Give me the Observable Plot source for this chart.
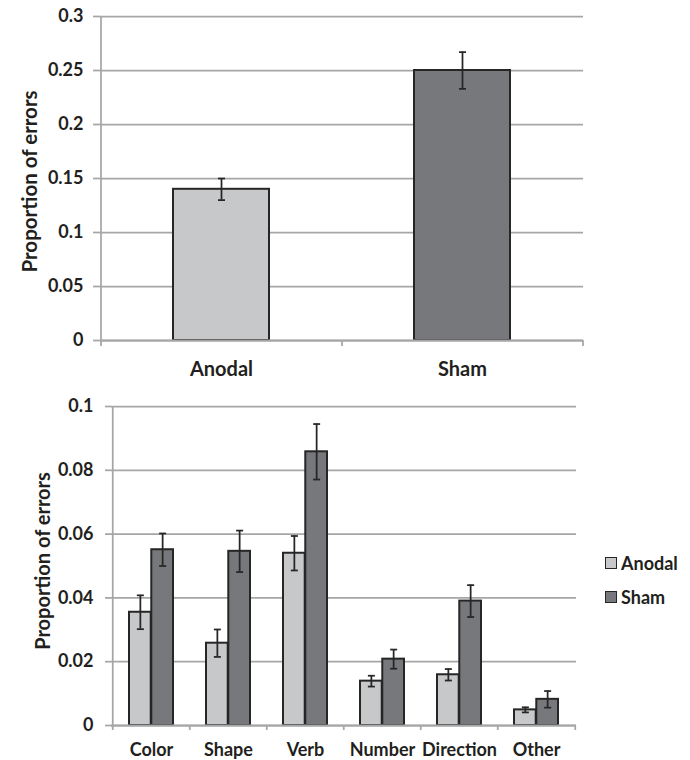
<!DOCTYPE html>
<html>
<head>
<meta charset="utf-8">
<script src="https://cdn.jsdelivr.net/npm/d3@7"></script>
<script src="https://cdn.jsdelivr.net/npm/@observablehq/plot@0.6"></script>
<style>
  body { margin: 0; background: #fff; font-family: Lato, sans-serif; }
  #wrap { position: relative; width: 690px; height: 760px; }
  #top { position: absolute; left: 0; top: 0; }
  #bottom { position: absolute; left: 0; top: 390px; }
  #legend { position: absolute; left: 605px; top: 546px; font: 700 18px Lato, sans-serif; color: #231f20; }
  .item { display: flex; align-items: center; height: 34px; }
  .sw { width: 10px; height: 10px; border: 1.5px solid #262626; margin-right: 4px; }
</style>
</head>
<body>
<div id="wrap">
  <div id="top"></div>
  <div id="bottom"></div>
  <div id="legend"></div>
</div>
<script>
// ---- data ----
const conditions = ["Anodal", "Sham"];
const overallMean = [0.14, 0.25];
const overallErr = [0.01, 0.017];
const topTicks = [0, 0.05, 0.1, 0.15, 0.2, 0.25, 0.3];

const errorTypes = ["Color", "Shape", "Verb", "Number", "Direction", "Other"];
const anodalMean = [0.0355, 0.0258, 0.054, 0.0139, 0.0159, 0.0049];
const anodalErr  = [0.0053, 0.0043, 0.0054, 0.0017, 0.0018, 0.0008];
const shamMean   = [0.0551, 0.0546, 0.0858, 0.0208, 0.039, 0.0082];
const shamErr    = [0.0051, 0.0065, 0.0087, 0.003, 0.005, 0.0026];
const bottomTicks = [0, 0.02, 0.04, 0.06, 0.08, 0.1];

// ---- styles ----
const LIGHT = "#c7c8ca", DARK = "#77787b", BORDER = "#262626", GRID = "#a6a6a6", TEXT = "#231f20";
const fillOf = {Anodal: LIGHT, Sham: DARK};
const hline = {draw(ctx, size) { const r = Math.sqrt(size / Math.PI); ctx.moveTo(-r, 0); ctx.lineTo(r, 0); }};
const fmt = d => String(d);
const baseStyle = {fontFamily: "Lato, sans-serif", fontWeight: 700, fontSize: "18px", color: TEXT, background: "white"};

// ---- top chart ----
{
  const W = 690, H = 390, ml = 101, mr = 107, mt = 16, mb = 50;
  const step = (W - ml - mr) / conditions.length;
  const rows = conditions.map((c, i) => ({cond: c, mean: overallMean[i], err: overallErr[i]}));
  const caps = rows.flatMap(d => [{cond: d.cond, y: d.mean - d.err}, {cond: d.cond, y: d.mean + d.err}]);
  const chart = Plot.plot({
    width: W, height: H, marginLeft: ml, marginRight: mr, marginTop: mt, marginBottom: mb,
    style: baseStyle,
    x: {domain: conditions, paddingInner: 0.6, paddingOuter: 0.3, axis: null},
    y: {domain: [0, 0.3], axis: null},
    marks: [
      Plot.gridY(topTicks, {stroke: GRID, strokeOpacity: 1, strokeWidth: 1.75}),
      Plot.axisY({ticks: topTicks, tickSize: 8, tickPadding: 10, stroke: GRID, strokeWidth: 1.75, tickFormat: fmt, label: null, fill: TEXT, fontSize: 18}),
      Plot.ruleX([conditions[0]], {dx: -step / 2, y1: 0, y2: 0.3, stroke: GRID, strokeWidth: 1.75}),
      Plot.barY(rows, {x: "cond", y: "mean", fill: d => fillOf[d.cond], stroke: BORDER, strokeWidth: 2}),
      Plot.ruleX(rows, {x: "cond", y1: d => d.mean - d.err, y2: d => d.mean + d.err, stroke: BORDER, strokeWidth: 1.75}),
      Plot.dot(caps, {x: "cond", y: "y", r: 3.5, symbol: hline, stroke: BORDER, strokeWidth: 1.75}),
      Plot.ruleY([0], {stroke: GRID, strokeWidth: 2}),
      Plot.ruleX(conditions, {x: d => d, dx: -step / 2, y1: 0, y2: 0, insetBottom: -6, stroke: GRID, strokeWidth: 1.75}),
      Plot.ruleX([conditions[conditions.length - 1]], {x: d => d, dx: step / 2, y1: 0, y2: 0, insetBottom: -6, stroke: GRID, strokeWidth: 1.75}),
      Plot.text(conditions, {x: d => d, y: 0, dy: 29, text: d => d, fill: TEXT, fontSize: 20, lineAnchor: "middle"}),
      Plot.text(["Proportion of errors"], {frameAnchor: "left", dx: -(ml - 30), dy: 3, rotate: -90, text: d => d, fill: TEXT, fontSize: 20.5, textAnchor: "middle", lineAnchor: "middle"})
    ]
  });
  document.getElementById("top").append(chart);
}

// ---- bottom chart ----
{
  const W = 690, H = 370, ml = 111, mr = 114, mt = 16, mb = 35;
  const step = (W - ml - mr) / errorTypes.length;
  const pad = 0.425;
  const bw = step * (1 - pad);
  const anodal = errorTypes.map((t, i) => ({type: t, group: "Anodal", mean: anodalMean[i], err: anodalErr[i]}));
  const sham = errorTypes.map((t, i) => ({type: t, group: "Sham", mean: shamMean[i], err: shamErr[i]}));
  const capsOf = rows => rows.flatMap(d => [{type: d.type, y: d.mean - d.err}, {type: d.type, y: d.mean + d.err}]);
  const errMarks = (rows, dx) => [
    Plot.ruleX(rows, {x: "type", dx, y1: d => d.mean - d.err, y2: d => d.mean + d.err, stroke: BORDER, strokeWidth: 1.75}),
    Plot.dot(capsOf(rows), {x: "type", dx, y: "y", r: 3.5, symbol: hline, stroke: BORDER, strokeWidth: 1.75})
  ];
  const chart = Plot.plot({
    width: W, height: H, marginLeft: ml, marginRight: mr, marginTop: mt, marginBottom: mb,
    style: baseStyle,
    x: {domain: errorTypes, paddingInner: pad, paddingOuter: pad / 2, axis: null},
    y: {domain: [0, 0.1], axis: null},
    marks: [
      Plot.gridY(bottomTicks, {stroke: GRID, strokeOpacity: 1, strokeWidth: 1.75}),
      Plot.axisY({ticks: bottomTicks, tickSize: 6, tickPadding: 12, stroke: GRID, strokeWidth: 1.75, tickFormat: fmt, label: null, fill: TEXT, fontSize: 18}),
      Plot.ruleX([errorTypes[0]], {dx: -step / 2, y1: 0, y2: 0.1, stroke: GRID, strokeWidth: 1.75}),
      Plot.barY(anodal, {x: "type", y: "mean", insetRight: bw / 2, fill: LIGHT, stroke: BORDER, strokeWidth: 2}),
      Plot.barY(sham, {x: "type", y: "mean", insetLeft: bw / 2, fill: DARK, stroke: BORDER, strokeWidth: 2}),
      ...errMarks(anodal, -bw / 4),
      ...errMarks(sham, bw / 4),
      Plot.ruleY([0], {stroke: GRID, strokeWidth: 2}),
      Plot.ruleX(errorTypes, {x: d => d, dx: -step / 2, y1: 0, y2: 0, insetBottom: -5, stroke: GRID, strokeWidth: 1.75}),
      Plot.ruleX([errorTypes[errorTypes.length - 1]], {x: d => d, dx: step / 2, y1: 0, y2: 0, insetBottom: -5, stroke: GRID, strokeWidth: 1.75}),
      Plot.text(errorTypes, {x: d => d, y: 0, dy: 25, text: d => d, fill: TEXT, fontSize: 18, lineAnchor: "middle"}),
      Plot.text(["Proportion of errors"], {frameAnchor: "left", dx: -(ml - 43), dy: -5, rotate: -90, text: d => d, fill: TEXT, fontSize: 20, textAnchor: "middle", lineAnchor: "middle"})
    ]
  });
  document.getElementById("bottom").append(chart);
}

// ---- legend ----
document.getElementById("legend").innerHTML = conditions.map(c =>
  `<div class="item"><span class="sw" style="background:${fillOf[c]}"></span>${c}</div>`).join("");
</script>
</body>
</html>
